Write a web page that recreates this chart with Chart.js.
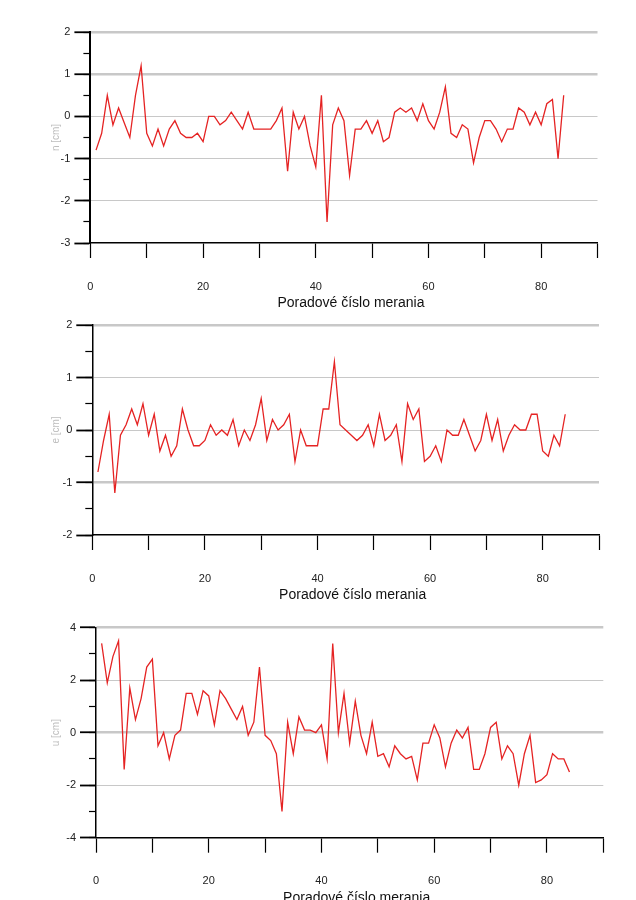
<!DOCTYPE html>
<html lang="sk">
<head>
<meta charset="UTF-8">
<title>Odchýlky n, e, u</title>
<script src="https://cdn.jsdelivr.net/npm/chart.js"></script>
<style>
  body { margin: 0; background: #fff; }
  .wrap { position: relative; width: 636px; height: 900px; overflow: hidden; }
  canvas { position: absolute; left: 0; }
</style>
</head>
<body>
<div class="wrap">
  <canvas id="chartN" width="636" height="310" style="top:0"></canvas>
  <canvas id="chartE" width="636" height="300" style="top:310px"></canvas>
  <canvas id="chartU" width="636" height="290" style="top:610px"></canvas>
</div>
<script>
// poradové čísla meraní
const measurementNo = [1,2,3,4,5,6,7,8,9,10,11,12,13,14,15,16,17,18,19,20,21,22,23,24,25,26,27,28,29,30,
  31,32,33,34,35,36,37,38,39,40,41,42,43,44,45,46,47,48,49,50,51,52,53,54,55,56,57,58,59,60,
  61,62,63,64,65,66,67,68,69,70,71,72,73,74,75,76,77,78,79,80,81,82,83,84];

// odchýlky [cm]
const nValues = [-0.8,-0.4,0.5,-0.2,0.2,-0.15,-0.5,0.5,1.2,-0.4,-0.7,-0.3,-0.7,-0.3,-0.1,-0.4,-0.5,-0.5,-0.4,-0.6,
  0,0,-0.2,-0.1,0.1,-0.1,-0.3,0.1,-0.3,-0.3,-0.3,-0.3,-0.1,0.2,-1.3,0.1,-0.3,0,-0.7,-1.2,
  0.5,-2.5,-0.2,0.2,-0.1,-1.4,-0.3,-0.3,-0.1,-0.4,-0.1,-0.6,-0.5,0.1,0.2,0.1,0.2,-0.1,0.3,-0.1,
  -0.3,0.1,0.7,-0.4,-0.5,-0.2,-0.3,-1.1,-0.5,-0.1,-0.1,-0.3,-0.6,-0.3,-0.3,0.2,0.1,-0.2,0.1,-0.2,
  0.3,0.4,-1.0,0.5];
const eValues = [-0.8,-0.2,0.3,-1.2,-0.1,0.1,0.4,0.1,0.5,-0.1,0.3,-0.4,-0.1,-0.5,-0.3,0.4,0,-0.3,-0.3,-0.2,
  0.1,-0.1,0,-0.1,0.2,-0.3,0,-0.2,0.1,0.6,-0.2,0.2,0,0.1,0.3,-0.6,0,-0.3,-0.3,-0.3,
  0.4,0.4,1.3,0.1,0,-0.1,-0.2,-0.1,0.1,-0.3,0.3,-0.2,-0.1,0.1,-0.6,0.5,0.2,0.4,-0.6,-0.5,
  -0.3,-0.6,0,-0.1,-0.1,0.2,-0.1,-0.4,-0.2,0.3,-0.2,0.2,-0.4,-0.1,0.1,0,0,0.3,0.3,-0.4,
  -0.5,-0.1,-0.3,0.3];
const uValues = [3.4,1.9,2.9,3.5,-1.4,1.7,0.5,1.3,2.5,2.8,-0.5,0,-1.0,-0.1,0.1,1.5,1.5,0.7,1.6,1.4,
  0.3,1.6,1.3,0.9,0.5,1.0,-0.1,0.4,2.5,-0.1,-0.3,-0.8,-3.0,0.4,-0.8,0.6,0.1,0.1,0,0.3,
  -1.0,3.4,0,1.5,-0.4,1.2,-0.1,-0.8,0.4,-0.9,-0.8,-1.3,-0.5,-0.8,-1.0,-0.9,-1.8,-0.4,-0.4,0.3,
  -0.2,-1.3,-0.4,0.1,-0.2,0.2,-1.4,-1.4,-0.8,0.2,0.4,-1.0,-0.5,-0.8,-2.0,-0.8,-0.1,-1.9,-1.8,-1.6,
  -0.8,-1.0,-1.0,-1.5];

// popisy osí
const xTickLabels = [0, 20, 40, 60, 80];
const xTicks = [0, 10, 20, 30, 40, 50, 60, 70, 80, 90];
const nTickLabels = [-3, -2, -1, 0, 1, 2];
const eTickLabels = [-2, -1, 0, 1, 2];
const uTickLabels = [-4, -2, 0, 2, 4];
const xTitleText = 'Poradové číslo merania';

const FONT = "'Liberation Sans', Arial, sans-serif";

// nadpis osi x (trochu vpravo od stredu ako v predlohe)
const xTitlePlugin = {
  id: 'xTitle',
  afterDraw(chart, args, opts) {
    const {ctx, chartArea} = chart;
    ctx.save();
    ctx.font = opts.font;
    ctx.fillStyle = opts.color;
    ctx.textAlign = 'center';
    ctx.textBaseline = 'middle';
    ctx.fillText(opts.text, (chartArea.left + chartArea.right) / 2 + opts.shift, chartArea.bottom + opts.gap);
    ctx.restore();
  }
};

function makePanel(id, values, yTicks, minorStep, yTitle, frame) {
  const yMin = yTicks[0];
  const yMax = yTicks[yTicks.length - 1];
  const step = yTicks[1] - yTicks[0];
  const canvas = document.getElementById(id);

  return new Chart(canvas, {
    type: 'line',
    data: {
      datasets: [{
        data: measurementNo.map((x, i) => ({x: x, y: values[i]})),
        borderColor: '#e52323',
        borderWidth: 1.3,
        pointRadius: 0,
        tension: 0,
        fill: false,
        yAxisID: 'y'
      }]
    },
    options: {
      responsive: false,
      animation: false,
      devicePixelRatio: 1,
      layout: {
        autoPadding: false,
        padding: {top: frame.top, left: 0, right: 636 - frame.right, bottom: 0}
      },
      plugins: {
        legend: {display: false},
        tooltip: {enabled: false},
        xTitle: {text: xTitleText, font: '14px ' + FONT, color: '#111', shift: 7, gap: 60}
      },
      scales: {
        x: {
          type: 'linear',
          min: xTicks[0],
          max: xTicks[xTicks.length - 1],
          afterBuildTicks: s => { s.ticks = xTicks.map(v => ({value: v})); },
          afterFit: s => { s.height = canvas.height - frame.bottom; s.paddingLeft = 0; s.paddingRight = 0; },
          border: {color: '#000', width: 1.5},
          grid: {drawOnChartArea: false, tickLength: 15, tickColor: '#000', tickWidth: 1.2},
          ticks: {
            autoSkip: false,
            maxRotation: 0,
            padding: 22,
            color: '#222',
            font: {family: FONT, size: 11},
            callback: v => xTickLabels.includes(v) ? String(v) : ''
          }
        },
        y: {
          position: 'left',
          weight: 1,
          min: yMin,
          max: yMax,
          afterFit: s => { s.width = frame.left; s.paddingTop = 0; s.paddingBottom = 0; },
          border: {color: '#000', width: frame.axisWidth},
          grid: {
            color: c => c.tick && c.tick.value === yMin ? 'rgba(0,0,0,0)' : '#c8c8c8',
            lineWidth: c => c.tick && frame.thick.includes(c.tick.value) ? 2.5 : 1,
            tickColor: '#000',
            tickWidth: 1.8,
            tickLength: 16
          },
          ticks: {
            stepSize: step,
            padding: 4,
            color: '#222',
            font: {family: FONT, size: 11},
            callback: v => yTicks.includes(v) ? String(v) : ''
          },
          title: {
            display: true,
            text: yTitle,
            color: '#bdbdbd',
            font: {family: FONT, size: 10},
            padding: {top: 50, bottom: 0}
          }
        },
        yMinor: {
          position: 'left',
          weight: 0,
          min: yMin,
          max: yMax,
          afterFit: s => { s.width = 0; s.paddingTop = 0; s.paddingBottom = 0; },
          border: {display: false},
          grid: {drawOnChartArea: false, tickColor: '#000', tickWidth: 1.2, tickLength: 7},
          ticks: {stepSize: minorStep, color: 'rgba(0,0,0,0)', font: {size: 1}, padding: 0}
        }
      }
    },
    plugins: [xTitlePlugin]
  });
}

makePanel('chartN', nValues, nTickLabels, 0.5, 'n [cm]',
  {left: 90.4, right: 597.5, top: 32, bottom: 243, axisWidth: 2, thick: [2, 1]});
makePanel('chartE', eValues, eTickLabels, 0.5, 'e [cm]',
  {left: 92.3, right: 599, top: 15, bottom: 225, axisWidth: 1.5, thick: [2, -1]});
makePanel('chartU', uValues, uTickLabels, 1, 'u [cm]',
  {left: 96, right: 603.3, top: 17.7, bottom: 227.7, axisWidth: 1.5, thick: [4, 0]});
</script>
</body>
</html>
